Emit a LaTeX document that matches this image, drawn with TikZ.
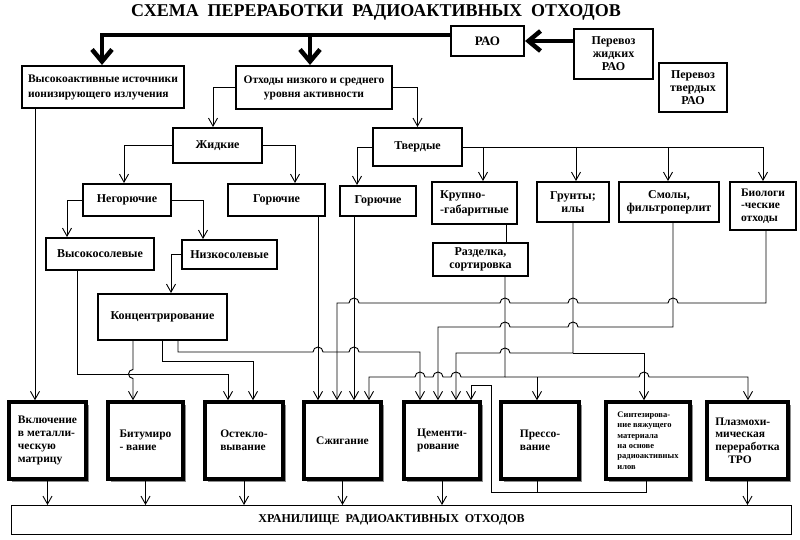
\documentclass[tikz,border=0pt]{standalone}
\usepackage{fontspec}
\setmainfont{Liberation Serif}
\usetikzlibrary{arrows.meta, shadows}

\tikzset{
  box/.style={draw, line width=2pt, align=center, inner sep=1pt,
    font=\bfseries\fontsize{12}{13}\selectfont},
  bigbox/.style={draw, line width=3.5pt, fill=white, align=left, inner sep=1pt,
    minimum height=77pt,
    drop shadow={shadow xshift=2.5pt, shadow yshift=-2.5pt, fill=black!45, opacity=1},
    font=\bfseries\fontsize{11.5}{12.7}\selectfont},
  arr/.style={line width=0.9pt, -{Straight Barb[length=8pt, width=9pt]}},
  link/.style={line width=0.9pt},
  fat/.style={line width=4.5pt, -{Straight Barb[length=12pt, width=20pt]}},
}

\begin{document}
\begin{tikzpicture}[x=1pt, y=-1pt]
  \useasboundingbox (0,0) rectangle (800,540);

  \node[font=\bfseries\fontsize{18}{20}\selectfont] (title) at (376,12)
    {СХЕМА\ \ ПЕРЕРАБОТКИ\ \ РАДИОАКТИВНЫХ\ \ ОТХОДОВ};

  % top row
  \node[box, minimum width=73pt, minimum height=30pt, font=\bfseries\fontsize{13}{15}\selectfont] (rao) at (487.5,41) {РАО};
  \node[box, minimum width=79pt, minimum height=50pt] (trL) at (613.5,54) {Перевоз\\жидких\\РАО};
  \node[box, minimum width=68pt, minimum height=49pt] (trS) at (693,87.5) {Перевоз\\твердых\\РАО};
  \node[box, minimum width=162pt, minimum height=42pt, align=left, font=\bfseries\fontsize{11.5}{15}\selectfont] (hv) at (103,87) {Высокоактивные источники\\ионизирующего излучения};
  \node[box, minimum width=156pt, minimum height=43pt, font=\bfseries\fontsize{11.5}{14}\selectfont] (low) at (314,87.5) {Отходы низкого и среднего\\уровня активности};

  % liquid branch
  \node[box, minimum width=89pt, minimum height=35pt] (liq) at (217.5,145.5) {Жидкие};
  \node[box, minimum width=88pt, minimum height=32pt] (nonc) at (127,200) {Негорючие};
  \node[box, minimum width=97pt, minimum height=32pt] (combL) at (276.5,200) {Горючие};
  \node[box, minimum width=108pt, minimum height=32pt] (hsalt) at (100,254) {Высокосолевые};
  \node[box, minimum width=95pt, minimum height=29pt] (lsalt) at (229.5,254.5) {Низкосолевые};
  \node[box, minimum width=129pt, minimum height=46pt] (conc) at (162.5,317) {Концентрирование};

  % solid branch
  \node[box, minimum width=89pt, minimum height=38pt] (sol) at (417.5,147) {Твердые};
  \node[box, minimum width=76pt, minimum height=30pt] (combS) at (378,201) {Горючие};
  \node[box, minimum width=85pt, minimum height=42pt, align=left, font=\bfseries\fontsize{12}{15}\selectfont] (large) at (474.5,203) {Крупно-\\-габаритные};
  \node[box, minimum width=72pt, minimum height=40pt] (soil) at (573,202) {Грунты;\\илы};
  \node[box, minimum width=100pt, minimum height=40pt] (resin) at (669,202) {Смолы,\\фильтроперлит};
  \node[box, minimum width=66pt, minimum height=48pt, align=left, font=\bfseries\fontsize{11.5}{12.5}\selectfont] (bio) at (763,206) {Биологи\\-ческие\\отходы};
  \node[box, minimum width=95pt, minimum height=33pt] (cut) at (480.5,259.5) {Разделка,\\сортировка};

  % processing
  \node[bigbox, minimum width=77pt] (b1) at (47.5,440.5) {Включение\\в металли-\\ческую\\матрицу};
  \node[bigbox, minimum width=75pt] (b2) at (145.5,440.5) {Битумиро\\- вание};
  \node[bigbox, minimum width=78pt] (b3) at (244,440.5) {Остекло-\\вывание};
  \node[bigbox, minimum width=77pt] (b4) at (342.5,440.5) {Сжигание};
  \node[bigbox, minimum width=76pt] (b5) at (442,440.5) {Цементи-\\рование};
  \node[bigbox, minimum width=78pt] (b6) at (540,440.5) {Прессо-\\вание};
  \node[bigbox, minimum width=84pt, font=\bfseries\fontsize{8.5}{10.3}\selectfont] (b7) at (648,440.5) {Синтезирова-\\ние вяжущего\\материала\\на основе\\радиоактивных\\илов};
  \node[bigbox, minimum width=81pt] (b8) at (747.5,440.5) {Плазмохи-\\мическая\\переработка\\\hspace*{13pt}ТРО};

  \node[draw, line width=1pt, minimum width=780pt, minimum height=29pt, font=\bfseries\fontsize{12}{14}\selectfont] (store) at (401.5,520) {ХРАНИЛИЩЕ\ \ РАДИОАКТИВНЫХ\ \ ОТХОДОВ\hspace*{20pt}};

  % thick arrows
  \coordinate (bus) at (310,35);
  \draw[fat] (rao.west |- bus) -| (hv.north -| 102,0);
  \draw[fat] (bus) -- (low.north -| bus);
  \draw[fat] (trL.west |- rao.east) -- (rao.east);

  % tree
  \draw[arr] (hv.south -| 35,0) -- (b1.north -| 35,0);
  \draw[arr] (low.west) -| (liq.north -| 213,0);
  \draw[arr] (low.east) -| (sol.north);
  \draw[arr] (liq.west) -| (nonc.north -| 124,0);
  \draw[arr] (liq.east) -| (combL.north -| 295,0);
  \draw[arr] (nonc.west) -| (hsalt.north -| 67,0);
  \draw[arr] (nonc.east) -| (lsalt.north -| 203,0);
  \draw[arr] (lsalt.west) -| (conc.north -| 171,0);
  \draw[arr] (sol.west) -| (combS.north -| 357,0);
  \draw[arr] (sol.east) -| (bio.north);
  \draw[arr] (sol.east -| 483,0) -- (large.north -| 483,0);
  \draw[arr] (sol.east -| 576,0) -- (soil.north -| 576,0);
  \draw[arr] (sol.east -| 668,0) -- (resin.north -| 668,0);
  \draw[link] (large.south -| 506,0) -- (cut.north -| 506,0);

  % liquid waste to processing
  \draw[arr] (hsalt.south -| 77,0) -- (77,374) -| (b3.north -| 228,0);
  \draw[arr] (conc.south -| 133,0) -- (133,369.5) arc[start angle=90, end angle=270, radius=4.5pt] -- (b2.north -| 133,0);
  \draw[arr] (conc.south -| 162,0) -- (162,361) -| (b3.north -| 253,0);
  \draw[arr] (conc.south -| 178,0) |- (313,352) arc[start angle=180, end angle=0, radius=5pt]
    -- (349,352) arc[start angle=180, end angle=0, radius=5pt] -| (b5.north -| 420,0);
  \draw[arr] (combL.south -| 318,0) -- (b4.north -| 318,0);

  % solid waste to processing
  \draw[arr] (combS.south -| 354,0) -- (b4.north -| 354,0);
  \draw[arr] (bio.south -| 766,0) |- (678,303) arc[start angle=0, end angle=180, radius=5pt]
    -- (578,303) arc[start angle=0, end angle=180, radius=5pt]
    -- (510,303) arc[start angle=0, end angle=180, radius=5pt]
    -- (359,303) arc[start angle=0, end angle=180, radius=5pt] -| (b4.north -| 337,0);
  \draw[arr] (resin.south -| 673,0) |- (578,327) arc[start angle=0, end angle=180, radius=5pt]
    -- (510,327) arc[start angle=0, end angle=180, radius=5pt] -| (b5.north -| 438,0);
  \coordinate (j1) at (573,353);
  \draw[arr] (soil.south -| 573,0) |- (510,353) arc[start angle=0, end angle=180, radius=5pt] -| (b5.north -| 456,0);
  \draw[arr] (j1) -| (b7.north -| 644,0);
  \coordinate (j2) at (505,377);
  \draw[arr] (cut.south -| 505,0) |- (461,377) arc[start angle=0, end angle=180, radius=5pt]
    -- (443,377) arc[start angle=0, end angle=180, radius=5pt]
    -- (425,377) arc[start angle=0, end angle=180, radius=5pt] -| (b4.north -| 369,0);
  \draw[arr] (j2) -- (639,377) arc[start angle=180, end angle=0, radius=5pt] -| (b8.north -| 748,0);
  \draw[arr] (j2 -| 537,0) -- (b6.north -| 537,0);

  % back to cementing
  \draw[arr] (b7.south -| 646,0) |- (491,492) -- (491,385) -| (b5.north -| 471,0);
  \draw[link] (b6.south -| 537,0) -- (537,492);

  % storage
  \foreach \b in {b1,b2,b3,b4,b5,b8}
    \draw[arr] (\b.south) -- (\b.south |- store.north);
\end{tikzpicture}
\end{document}
